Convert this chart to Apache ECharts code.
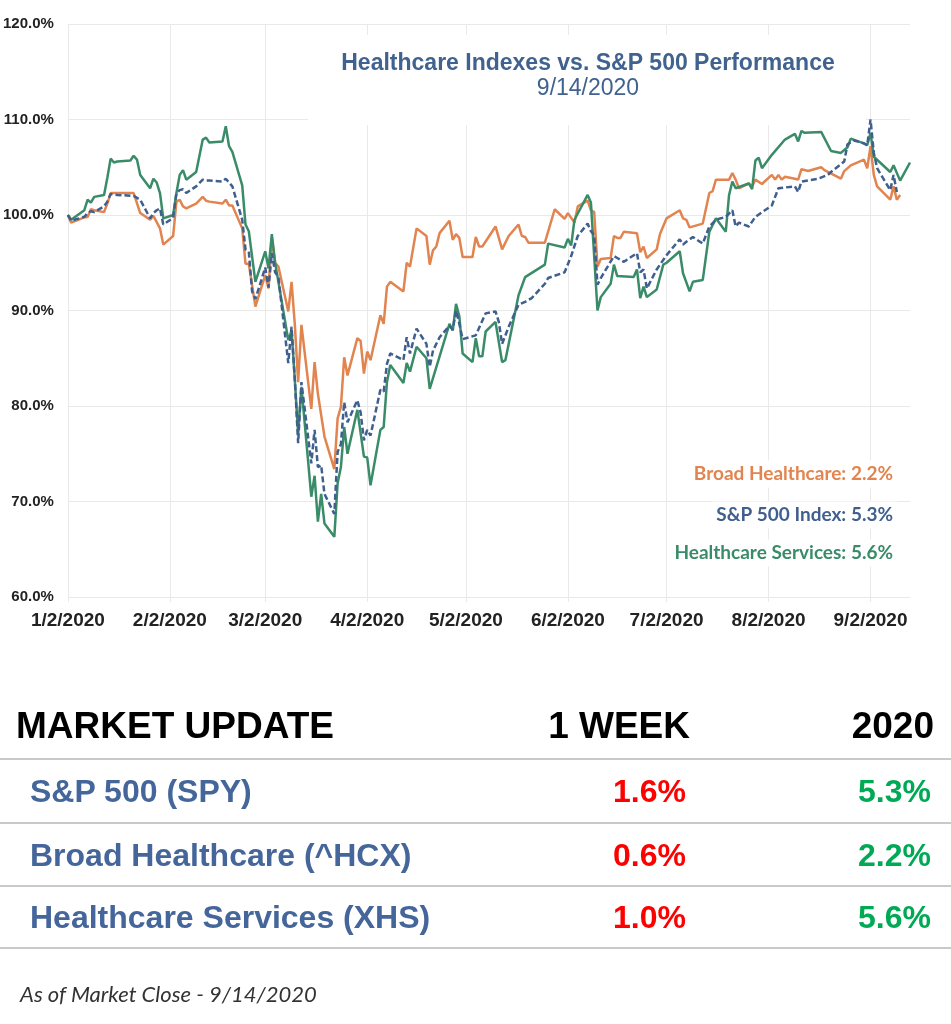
<!DOCTYPE html>
<html>
<head>
<meta charset="utf-8">
<script src="https://cdn.jsdelivr.net/npm/echarts@6/dist/echarts.min.js"></script>
<style>
  html, body { margin: 0; padding: 0; background: #fff; }
  #chart { position: absolute; left: 0; top: 0; width: 951px; height: 1024px; }
  #table { position: absolute; left: 0; top: 0; pointer-events: none; }
</style>
</head>
<body>
<div id="chart"></div>
<svg id="table" width="951" height="1024" xmlns="http://www.w3.org/2000/svg"></svg>
<script>
// ---------- DATA ----------
const dates = [
  // Jan
  '2020-01-02','2020-01-03','2020-01-06','2020-01-07','2020-01-08','2020-01-09','2020-01-10','2020-01-13','2020-01-14','2020-01-15','2020-01-16','2020-01-17','2020-01-21','2020-01-22','2020-01-23','2020-01-24','2020-01-27','2020-01-28','2020-01-29','2020-01-30','2020-01-31',
  // Feb
  '2020-02-03','2020-02-04','2020-02-05','2020-02-06','2020-02-07','2020-02-10','2020-02-12','2020-02-13','2020-02-14','2020-02-18','2020-02-19','2020-02-20','2020-02-21','2020-02-24','2020-02-25','2020-02-26','2020-02-27','2020-02-28',
  // Mar
  '2020-03-02','2020-03-03','2020-03-04','2020-03-05','2020-03-06','2020-03-09','2020-03-10','2020-03-11','2020-03-12','2020-03-13','2020-03-16','2020-03-17','2020-03-18','2020-03-19','2020-03-20','2020-03-23','2020-03-24','2020-03-25','2020-03-26','2020-03-27','2020-03-30','2020-03-31',
  // Apr
  '2020-04-01','2020-04-02','2020-04-03','2020-04-06','2020-04-07','2020-04-08','2020-04-09','2020-04-13','2020-04-14','2020-04-15','2020-04-17','2020-04-20','2020-04-21','2020-04-22','2020-04-23','2020-04-24','2020-04-27','2020-04-28','2020-04-29','2020-04-30',
  // May
  '2020-05-01','2020-05-04','2020-05-05','2020-05-06','2020-05-07','2020-05-08','2020-05-11','2020-05-12','2020-05-13','2020-05-14','2020-05-15','2020-05-18','2020-05-19','2020-05-20','2020-05-21','2020-05-22','2020-05-26','2020-05-27','2020-05-29',
  // Jun
  '2020-06-01','2020-06-02','2020-06-03','2020-06-04','2020-06-05','2020-06-08','2020-06-09','2020-06-10','2020-06-11','2020-06-12','2020-06-15','2020-06-16','2020-06-17','2020-06-18','2020-06-19','2020-06-22','2020-06-23','2020-06-24','2020-06-25','2020-06-26','2020-06-29','2020-06-30',
  // Jul
  '2020-07-01','2020-07-02','2020-07-06','2020-07-07','2020-07-08','2020-07-09','2020-07-10','2020-07-13','2020-07-15','2020-07-16','2020-07-17','2020-07-20','2020-07-21','2020-07-22','2020-07-23','2020-07-24','2020-07-27','2020-07-28','2020-07-29','2020-07-30','2020-07-31',
  // Aug
  '2020-08-03','2020-08-04','2020-08-05','2020-08-06','2020-08-07','2020-08-10','2020-08-11','2020-08-12','2020-08-13','2020-08-14','2020-08-17','2020-08-18','2020-08-19','2020-08-20','2020-08-21','2020-08-24','2020-08-25','2020-08-26','2020-08-27','2020-08-28','2020-08-31',
  // Sep
  '2020-09-01','2020-09-02','2020-09-03','2020-09-04','2020-09-08','2020-09-09','2020-09-10','2020-09-11','2020-09-14'
];

// Broad Healthcare (^HCX), % of 1/2/2020
const broadHealthcare = [
  100, 99.2, null, 99.75, 99.8, 100.6, 100.5, 100.3, 101.2, 102.3, 102.3, null, null, 102.3, null, 100.2, 99.5, 99.9, null, 98.6, 96.9,
  97.8, 101.4, 101.6, 100.9, 100.7, 101.2, 101.9, 101.5, 101.4, 101.2, 101.6, 101.0, 101.0, 98.6, 94.9, 94.9, null, 90.4,
  93.7, 92.3, 97.6, 95.0, 94.6, 89.9, 93.0, 88.5, 82.5, 88.5, 79.7, 84.6, 81.3, null, 76.8, 73.4, 78.7, 79.9, 85.1, 83.2, 87.1, 86.8,
  83.4, 85.7, 84.8, 89.5, 88.6, 92.5, 93.0, 92.0, 95.0, 94.6, 98.6, 97.8, 94.8, 96.3, 96.7, 98.1, 99.4, 97.4, 98.0, 97.6,
  95.6, 95.6, 97.7, 96.7, 96.7, null, 98.8, null, 96.4, null, 97.8, 99.0, 97.8, 97.7, 97.1, null, 97.1, null, 100.6,
  99.6, 100.2, null, 99.2, 100.9, 101.5, 100.5, 100.3, 94.6, 95.4, 95.5, 97.8, 97.6, 97.6, 98.25, null, 98.1, 96.1, 96.7, 95.5, 96.4, 98.0,
  null, 99.65, 100.5, 99.65, 99.5, 98.7, null, 99.1, 102.3, 102.5, 103.7, null, 103.7, 104.4, 103.7, 102.8, 103.3, 103.0, 103.7, null, 103.25,
  104.2, 103.7, 104.2, 103.7, 104.0, 103.8, 103.7, 104.8, null, 104.6, null, 105.0, 104.7, null, null, 103.8, 104.6, null, 105.2, null, 105.8,
  104.9, 107.2, 104.2, 103.0, 101.6, 103.0, 101.6, 102.1, null
];

// S&P 500 Index (SPY), % of 1/2/2020
const sp500 = [
  100, 99.4, 99.7, 99.8, 100.2, 100.4, 100.3, 100.9, 101.4, 102.2, null, 102.1, null, 102.0, null, 101.6, 99.65, 100.2, 100.5, 100.7, 99.0,
  99.7, 102.3, 102.6, 102.7, 102.3, 103.0, 103.7, 103.6, 103.6, 103.5, 103.8, 103.4, 103.0, 99.5, 96.4, 96.2, 92.0, 91.2,
  94.5, 92.4, 96.0, 94.0, 93.5, 84.5, 88.3, 82.7, 76.1, 82.5, 74.0, 77.5, 73.6, 73.8, 70.8, 68.7, 75.2, 76.0, 80.4, 78.3, 80.6, 79.3,
  76.4, 77.5, 76.9, 81.7, 81.5, 84.4, 85.5, 84.8, 87.2, 85.5, 88.1, 86.5, 84.1, 85.8, null, 87.2, 88.4, 88.0, 90.0, 88.6,
  87.0, null, 87.4, null, null, 89.7, 89.9, 88.8, 86.5, null, 88.3, 90.6, null, 90.9, null, 91.3, 92.8, 93.4, null,
  94.0, null, 95.7, null, 97.8, 99.1, 98.3, 97.9, 92.7, 93.4, null, 95.7, 95.5, null, 95.1, null, 96.0, 94.0, 94.3, 92.3, 94.3, null,
  null, 95.8, 97.45, 96.9, 97.2, null, 97.7, 97.0, 98.8, null, 99.5, 99.8, null, 100.5, 98.8, 99.2, 98.8, null, 99.8, null, null,
  101.0, null, 102.8, null, null, 103.0, 102.4, 103.5, null, null, 103.8, null, null, 104.2, 104.5, null, 105.6, 107.4, 107.6, 107.8, 107.5,
  107.3, 110.0, 106.5, 104.9, 102.6, 104.2, 102.4, null, null
];

// Healthcare Services (XHS), % of 1/2/2020
const healthcareServices = [
  100, 99.5, null, 100.5, 101.6, 101.3, 101.9, 102.1, 103.9, 105.9, 105.5, 105.6, 105.7, 106.2, 105.8, 104.2, 102.8, 103.8, 103.4, 102.3, 99.65,
  100.0, 102.3, 104.2, 104.7, 103.7, 104.5, 107.9, 108.1, 107.6, 107.7, 109.3, 107.2, 106.6, 103.1, 99.0, 98.3, null, 93.0,
  96.2, 94.4, 98.0, 95.0, 93.0, 86.9, 87.9, 82.7, 77.1, 82.0, 70.5, 72.7, 67.9, 70.8, 67.7, 66.3, 71.9, 73.6, 77.8, 75.0, 79.6, null,
  74.7, 74.6, 71.7, 77.5, 77.8, 82.5, 84.3, 82.4, 84.5, 83.6, 86.2, 85.0, 81.8, null, null, null, 88.6, 87.9, 90.7, 89.4,
  85.5, 84.6, 87.1, 85.2, 85.2, 87.8, 88.8, null, 84.6, 84.8, null, 91.6, null, 93.5, null, null, 94.8, 97.0, null,
  96.6, 97.5, 96.8, 99.5, null, 102.1, 101.3, null, 90.0, 91.4, 92.8, 94.8, 93.6, null, null, 93.5, 94.3, 91.3, 92.5, 91.4, 92.2, null,
  94.8, 95.0, 96.2, 93.9, null, 92.0, 93.0, 93.2, 98.25, null, 99.65, 98.25, 102.1, 103.5, 102.8, null, 103.3, 102.7, 105.7, 106.0, 104.9,
  106.3, null, null, null, 107.9, 108.5, 107.7, 108.8, 108.6, null, null, 108.7, null, null, 106.7, 106.5, null, 107.1, 108.0, null, 107.5,
  107.3, 108.6, 106.1, null, 104.5, 105.2, null, 103.6, 105.5
];

const xTickDates  = ['2020-01-02','2020-02-02','2020-03-02','2020-04-02','2020-05-02','2020-06-02','2020-07-02','2020-08-02','2020-09-02'];
const xTickLabels = ['1/2/2020','2/2/2020','3/2/2020','4/2/2020','5/2/2020','6/2/2020','7/2/2020','8/2/2020','9/2/2020'];
const xStart = '2020-01-02';
const xEnd   = '2020-09-14';

const titleText    = 'Healthcare Indexes vs. S&P 500 Performance';
const subtitleText = '9/14/2020';
const legendLabels = ['Broad Healthcare: 2.2%', 'S&P 500 Index: 5.3%', 'Healthcare Services: 5.6%'];

const tableHeader = ['MARKET UPDATE', '1 WEEK', '2020'];
const tableRows   = ['S&P 500 (SPY)', 'Broad Healthcare (^HCX)', 'Healthcare Services (XHS)'];
const weekValues  = ['1.6%', '0.6%', '1.0%'];
const ytdValues   = ['5.3%', '2.2%', '5.6%'];
const footnote    = 'As of Market Close - 9/14/2020';

// ---------- TABLE (real SVG text) ----------
const svg = document.getElementById('table');
const NS = 'http://www.w3.org/2000/svg';
function addText(str, x, y, attrs) {
  const t = document.createElementNS(NS, 'text');
  t.setAttribute('x', x); t.setAttribute('y', y);
  for (const k in attrs) t.setAttribute(k, attrs[k]);
  t.textContent = str;
  svg.appendChild(t);
}
function addLine(y) {
  const l = document.createElementNS(NS, 'line');
  l.setAttribute('x1', 0); l.setAttribute('x2', 951);
  l.setAttribute('y1', y); l.setAttribute('y2', y);
  l.setAttribute('stroke', '#c9c9c9'); l.setAttribute('stroke-width', 2);
  svg.appendChild(l);
}
const hdr = { 'font-family': 'Liberation Sans', 'font-weight': 'bold', 'font-size': 37, fill: '#000' };
addText(tableHeader[0], 16, 738, hdr);
addText(tableHeader[1], 690, 738, Object.assign({ 'text-anchor': 'end' }, hdr));
addText(tableHeader[2], 934, 738, Object.assign({ 'text-anchor': 'end' }, hdr));
[759, 823, 886, 948].forEach(addLine);
const rowBase = [802, 866, 928];
const rowFont = { 'font-family': 'Liberation Sans', 'font-weight': 'bold', 'font-size': 32 };
tableRows.forEach((r, i) => {
  addText(r, 30, rowBase[i], Object.assign({ fill: '#45669A' }, rowFont));
  addText(weekValues[i], 686, rowBase[i], Object.assign({ fill: '#FF0000', 'text-anchor': 'end' }, rowFont));
  addText(ytdValues[i], 931, rowBase[i], Object.assign({ fill: '#00AA55', 'text-anchor': 'end' }, rowFont));
});
addText(footnote, 20, 1002, { 'font-family': 'Lato', 'font-style': 'italic', 'font-size': 22, fill: '#333' });

// ---------- CHART ----------
const toTime = s => { const p = s.split('-').map(Number); return new Date(p[0], p[1] - 1, p[2]).getTime(); };
const pairs = vals => dates.map((d, i) => [toTime(d), vals[i]]);
const tickTimes = xTickDates.map(toTime);

const COL_ORANGE = '#E2844F';
const COL_BLUE   = '#3F5F8F';
const COL_GREEN  = '#3A8C69';
const GRID_COL   = '#e9e9e9';

const chart = echarts.init(document.getElementById('chart'), null, { renderer: 'canvas' });

chart.setOption({
  animation: false,
  backgroundColor: '#fff',
  grid: { left: 67, right: 41, top: 24, bottom: 427, containLabel: false },
  xAxis: {
    type: 'value',
    min: toTime(xStart),
    max: toTime(xEnd),
    axisLine: { show: false },
    axisTick: { show: true, length: 5, lineStyle: { color: GRID_COL }, customValues: tickTimes },
    splitLine: { show: true, lineStyle: { color: GRID_COL, width: 1 } },
    axisLabel: {
      customValues: tickTimes,
      margin: 14,
      color: '#222',
      fontFamily: 'Liberation Sans',
      fontWeight: 'bold',
      fontSize: 19,
      formatter: v => {
        const i = tickTimes.indexOf(v);
        return i >= 0 ? xTickLabels[i] : '';
      }
    }
  },
  yAxis: {
    type: 'value',
    min: 60, max: 120, interval: 10,
    axisLine: { show: false },
    axisTick: { show: false },
    splitLine: { show: true, lineStyle: { color: GRID_COL, width: 1 } },
    axisLabel: {
      margin: 14,
      color: '#222',
      fontFamily: 'Liberation Sans',
      fontWeight: 'bold',
      fontSize: 15,
      formatter: v => v.toFixed(1) + '%'
    }
  },
  series: [
    { name: 'Broad Healthcare', type: 'line', data: pairs(broadHealthcare), connectNulls: true,
      showSymbol: false, symbol: 'none', lineStyle: { color: COL_ORANGE, width: 2.5 }, itemStyle: { color: COL_ORANGE }, z: 2 },
    { name: 'Healthcare Services', type: 'line', data: pairs(healthcareServices), connectNulls: true,
      showSymbol: false, symbol: 'none', lineStyle: { color: COL_GREEN, width: 2.5 }, itemStyle: { color: COL_GREEN }, z: 3 },
    { name: 'S&P 500 Index', type: 'line', data: pairs(sp500), connectNulls: true,
      showSymbol: false, symbol: 'none', lineStyle: { color: COL_BLUE, width: 2.5, type: [6, 3] }, itemStyle: { color: COL_BLUE }, z: 4 }
  ],
  graphic: [
    { type: 'rect', silent: true, z: 1, shape: { x: 308, y: 35, width: 558, height: 90 }, style: { fill: '#ffffff' } },
    { type: 'text', silent: true, z: 5, x: 588, y: 64,
      style: { text: titleText, fill: '#41628F', font: 'bold 23px "Liberation Sans"', align: 'center', verticalAlign: 'middle' } },
    { type: 'text', silent: true, z: 5, x: 588, y: 89,
      style: { text: subtitleText, fill: '#41628F', font: '23px "Liberation Sans"', align: 'center', verticalAlign: 'middle' } },
    { type: 'text', silent: true, z: 5, x: 897, y: 474,
      style: { text: legendLabels[0], fill: COL_ORANGE, font: 'bold 19px Lato', align: 'right', verticalAlign: 'middle', backgroundColor: '#fff', padding: [4, 4] } },
    { type: 'text', silent: true, z: 5, x: 897, y: 515,
      style: { text: legendLabels[1], fill: COL_BLUE, font: 'bold 19px Lato', align: 'right', verticalAlign: 'middle', backgroundColor: '#fff', padding: [4, 4] } },
    { type: 'text', silent: true, z: 5, x: 897, y: 553,
      style: { text: legendLabels[2], fill: COL_GREEN, font: 'bold 19px Lato', align: 'right', verticalAlign: 'middle', backgroundColor: '#fff', padding: [4, 4] } }
  ]
});
</script>
</body>
</html>
